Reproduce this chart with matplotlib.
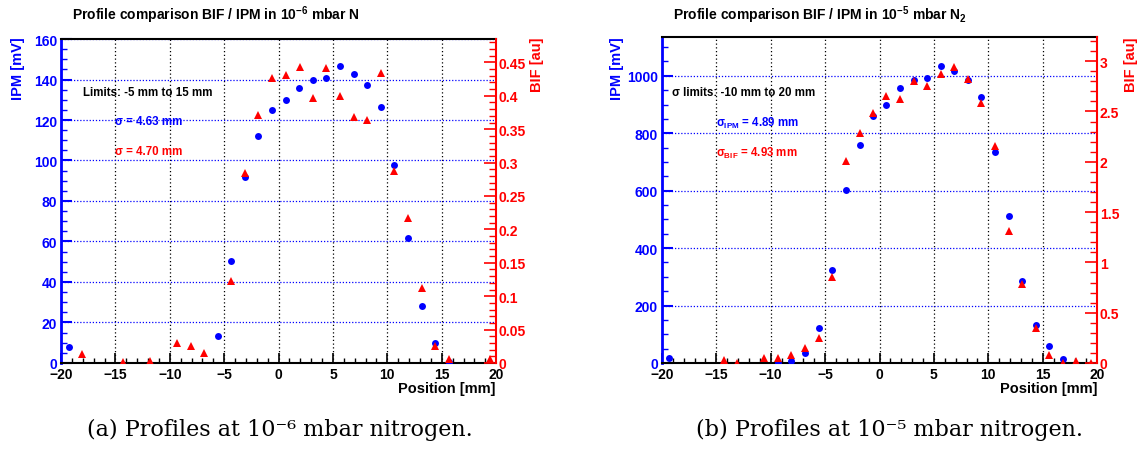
import numpy as np
import matplotlib
matplotlib.use('Agg')
import matplotlib.pyplot as plt
from matplotlib.ticker import MultipleLocator

plt.rcParams['font.family'] = ['Liberation Sans', 'DejaVu Sans']
plt.rcParams['font.weight'] = 'bold'
plt.rcParams['mathtext.fontset'] = 'custom'
plt.rcParams['mathtext.rm'] = 'Liberation Sans:bold'
plt.rcParams['mathtext.bf'] = 'Liberation Sans:bold'
plt.rcParams['mathtext.it'] = 'Liberation Sans:bold'

# ---- data: (a) 1e-6 mbar N
a_ipm_x = [-19.3, -5.57, -4.34, -3.09, -1.86, -0.58, 0.64, 1.9, 3.18, 4.4, 5.66, 6.9, 8.14, 9.42,
           10.64, 11.9, 13.15, 14.4, 15.66]
a_ipm_y = [7.7, 13.2, 50.4, 91.7, 112, 124.8, 130, 135.7, 139.9, 140.7, 146.5, 142.6, 137.3, 126.6,
           97.6, 61.7, 28.1, 9.7, 0.3]
a_bif_x = [-18.07, -14.3, -11.8, -9.3, -8.07, -6.82, -4.34, -3.09, -1.86, -0.58, 0.64, 1.93, 3.18,
           4.4, 5.66, 6.9, 8.14, 9.42, 10.64, 11.9, 13.15, 14.4, 15.66, 19.4]
a_bif_y = [0.0135, 0.002, 0.0035, 0.0295, 0.0254, 0.0155, 0.123, 0.284, 0.371, 0.427, 0.431, 0.4436,
           0.397, 0.442, 0.399, 0.368, 0.364, 0.434, 0.287, 0.2166, 0.113, 0.026, 0.006, 0.006]

# ---- data: (b) 1e-5 mbar N2
b_ipm_x = [-19.33, -9.33, -8.1, -6.85, -5.6, -4.34, -3.09, -1.83, -0.6, 0.64, 1.9, 3.15, 4.37, 5.63,
           6.88, 8.1, 9.36, 10.6, 11.9, 13.1, 14.4, 15.6, 16.9]
b_ipm_y = [16.3, 0, 5.8, 35, 123, 324, 604, 758, 861, 900, 959, 984, 994, 1034,
           1017, 987, 926, 735, 511, 285, 133, 59, 12.8]
b_bif_x = [-14.3, -13.06, -10.6, -9.33, -8.1, -6.85, -5.6, -4.34, -3.09, -1.83, -0.58, 0.64, 1.9,
           3.15, 4.37, 5.63, 6.88, 8.1, 9.36, 10.6, 11.9, 13.1, 14.4, 15.6, 16.9, 18.1, 19.4]
b_bif_y = [0.033, 0.0, 0.053, 0.053, 0.083, 0.146, 0.249, 0.852, 2.005, 2.286, 2.48, 2.657, 2.62,
           2.80, 2.75, 2.873, 2.94, 2.826, 2.585, 2.154, 1.309, 0.785, 0.345, 0.08, 0.0, 0.02, 0.0]

BLUE = '#0000ff'
RED = '#ff0000'

fig = plt.figure(figsize=(11.39, 4.52), dpi=100)


def panel(rect, ipm_x, ipm_y, bif_x, bif_y, ipm_max, ipm_major, ipm_minor,
          bif_max, bif_major, bif_minor, bif_fmt):
    ax = fig.add_axes(rect)
    ax.set_xlim(-20, 20)
    ax.set_ylim(0, ipm_max)
    ax.xaxis.set_major_locator(MultipleLocator(5))
    ax.xaxis.set_minor_locator(MultipleLocator(1))
    ax.yaxis.set_major_locator(MultipleLocator(ipm_major))
    ax.yaxis.set_minor_locator(MultipleLocator(ipm_minor))
    ax.tick_params(axis='x', which='major', direction='in', length=7, width=1.2,
                   labelsize=10, pad=3, top=False)
    ax.tick_params(axis='x', which='minor', direction='in', length=3.5, width=1, top=False)
    ax.tick_params(axis='y', which='major', direction='in', length=8, width=1.5,
                   colors=BLUE, labelsize=10, pad=3, right=False)
    ax.tick_params(axis='y', which='minor', direction='in', length=4.5, width=1,
                   colors=BLUE, right=False)
    ax.spines['left'].set_color(BLUE)
    ax.spines['left'].set_linewidth(2)
    ax.spines['bottom'].set_linewidth(1.5)
    ax.spines['top'].set_linewidth(1.5)
    ax.spines['right'].set_visible(False)
    for x in range(-15, 20, 5):
        ax.axvline(x, color='black', ls=(0, (1, 2)), lw=0.9, zorder=0)
    ax.grid(axis='y', which='major', color=BLUE, ls=(0, (1, 1.5)), lw=0.9)
    ax.set_axisbelow(True)

    ax2 = ax.twinx()
    ax2.set_ylim(0, bif_max)
    ax2.yaxis.set_major_locator(MultipleLocator(bif_major))
    ax2.yaxis.set_minor_locator(MultipleLocator(bif_minor))
    ax2.yaxis.set_major_formatter(bif_fmt)
    ax2.tick_params(axis='y', which='major', direction='in', length=9, width=1.2,
                    colors=RED, labelsize=10, pad=2)
    ax2.tick_params(axis='y', which='minor', direction='in', length=5, width=1, colors=RED)
    ax2.spines['right'].set_color(RED)
    ax2.spines['right'].set_linewidth(1.5)
    ax2.spines['left'].set_visible(False)
    ax2.spines['top'].set_visible(False)
    ax2.spines['bottom'].set_visible(False)

    ax.plot(ipm_x, ipm_y, 'o', color=BLUE, ms=5, mew=0, zorder=3)
    ax2.plot(bif_x, bif_y, '^', color=RED, ms=5.5, mew=0, zorder=3)
    return ax, ax2


fmt_a = plt.FuncFormatter(lambda v, p: '0' if abs(v) < 1e-9 else ('%.2f' % v).rstrip('0'))
fmt_b = plt.FuncFormatter(lambda v, p: '%g' % v)

axA, axA2 = panel([0.0536, 0.1947, 0.382, 0.7168], a_ipm_x, a_ipm_y, a_bif_x, a_bif_y,
                  160, 20, 5, 0.485, 0.05, 0.01, fmt_a)
axB, axB2 = panel([0.5812, 0.1947, 0.382, 0.7212], b_ipm_x, b_ipm_y, b_bif_x, b_bif_y,
                  1135, 200, 50, 3.24, 0.5, 0.1, fmt_b)

# titles
fig.text(72 / 1139, 1 - 15 / 452, 'Profile comparison BIF / IPM in 10$^{-6}$ mbar N',
         fontsize=10, fontweight='bold', ha='left', va='center')
fig.text(673 / 1139, 1 - 15 / 452, 'Profile comparison BIF / IPM in 10$^{-5}$ mbar N$_{2}$',
         fontsize=10, fontweight='bold', ha='left', va='center')

# axis labels
for xl, col, txt in [(18, BLUE, 'IPM [mV]'), (537, RED, 'BIF [au]'),
                     (617, BLUE, 'IPM [mV]'), (1131, RED, 'BIF [au]')]:
    fig.text(xl / 1139, 1 - 37 / 452, txt, rotation=90, color=col, fontsize=10.5,
             fontweight='bold', ha='center', va='top')
for xr in [496, 1097]:
    fig.text(xr / 1139, 1 - 389 / 452, 'Position [mm]', fontsize=10.5, fontweight='bold',
             ha='right', va='center')

# annotations
fs = 8.3
axA.text(0.05, 0.836, 'Limits: -5 mm to 15 mm', transform=axA.transAxes, fontsize=fs,
         fontweight='bold', va='center')
axA.text(0.125, 0.747, 'σ = 4.63 mm', transform=axA.transAxes, fontsize=fs,
         fontweight='bold', va='center', color=BLUE)
axA.text(0.125, 0.654, 'σ = 4.70 mm', transform=axA.transAxes, fontsize=fs,
         fontweight='bold', va='center', color=RED)
axB.text(0.024, 0.831, 'σ limits: -10 mm to 20 mm', transform=axB.transAxes, fontsize=fs,
         fontweight='bold', va='center')
axB.text(0.124, 0.739, 'σ$_{IPM}$ = 4.89 mm', transform=axB.transAxes, fontsize=fs,
         fontweight='bold', va='center', color=BLUE)
axB.text(0.124, 0.647, 'σ$_{BIF}$ = 4.93 mm', transform=axB.transAxes, fontsize=fs,
         fontweight='bold', va='center', color=RED)

# captions
fig.text(280 / 1139, 1 - 430 / 452, '(a) Profiles at 10\u207b\u2076 mbar nitrogen.',
         family='DejaVu Serif', fontweight='normal', fontsize=16, ha='center', va='center')
fig.text(890 / 1139, 1 - 430 / 452, '(b) Profiles at 10\u207b\u2075 mbar nitrogen.',
         family='DejaVu Serif', fontweight='normal', fontsize=16, ha='center', va='center')

fig.savefig('out.png', dpi=100)
